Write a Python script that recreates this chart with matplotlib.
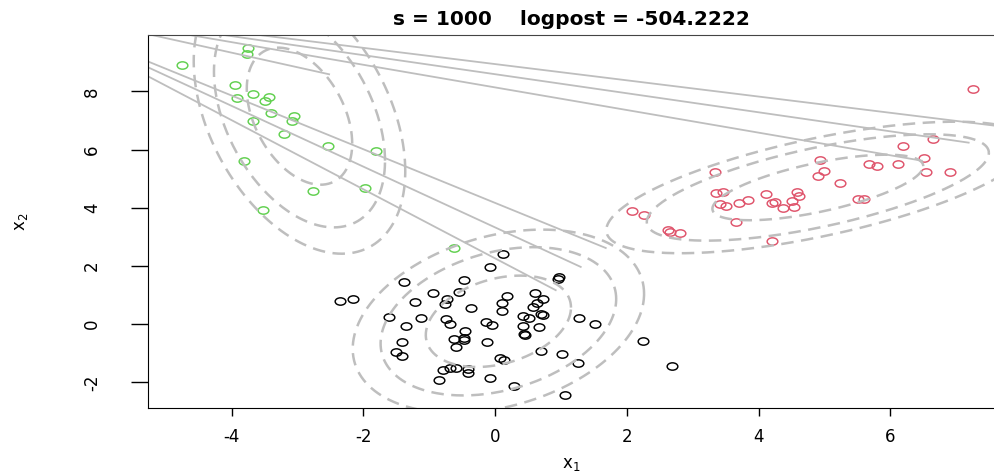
import numpy as np
import matplotlib.pyplot as plt
from matplotlib.markers import MarkerStyle
from matplotlib.transforms import Affine2D

plt.rcParams['font.family'] = ['DejaVu Sans']
plt.rcParams['axes.unicode_minus'] = False

# points
black_x = [-2.36, -2.16, -1.39, -0.47, -0.08, -0.94, -0.55, -0.73, -0.76, -1.21, -0.36, -1.61,
           -1.13, -1.36, -0.74, -0.68, -0.45, -0.47, -0.63, -0.47, -0.59, -0.13, -1.41, -1.50,
           -1.42, -0.79, -0.69, -0.59, -0.41, -0.41, -0.85, -0.08, -0.14, -0.05,
           0.12, 0.97, 0.96, 0.18, 0.60, 0.10, 0.73, 0.64, 0.57, 0.10, 0.69, 0.73, 0.42, 0.51,
           0.42, 0.66, 0.44, 0.45, 1.27, 1.52, 2.24, 2.69, 0.69, 1.01, 0.07, 0.14, 1.26, 0.29, 1.06]
black_y = [0.79, 0.87, 1.45, 1.53, 1.98, 1.07, 1.09, 0.87, 0.68, 0.76, 0.55, 0.26,
           0.23, -0.07, 0.17, 0.00, -0.24, -0.46, -0.51, -0.53, -0.80, -0.60, -0.60, -0.97,
           -1.08, -1.56, -1.52, -1.52, -1.53, -1.67, -1.93, -1.84, 0.06, -0.01,
           2.42, 1.61, 1.56, 0.98, 1.06, 0.73, 0.87, 0.73, 0.59, 0.45, 0.34, 0.32, 0.28, 0.22,
           -0.07, -0.10, -0.33, -0.38, 0.22, 0.00, -0.57, -1.43, -0.92, -1.01, -1.16, -1.24, -1.34, -2.14, -2.44]

red_x = [3.34, 3.35, 3.46, 3.42, 3.51, 3.71, 3.84, 4.11, 4.21, 4.25, 4.37, 4.51, 4.54, 4.59,
         2.08, 2.26, 2.62, 2.66, 2.81, 3.66, 4.20, 7.25, 6.65, 6.19, 6.51, 4.94, 5.68, 5.80,
         6.11, 4.99, 4.91, 6.54, 6.90, 5.23, 4.62, 5.51, 5.60]
red_y = [5.24, 4.51, 4.53, 4.13, 4.07, 4.15, 4.26, 4.48, 4.18, 4.19, 3.98, 4.24, 4.02, 4.55,
         3.89, 3.77, 3.23, 3.18, 3.15, 3.53, 2.85, 8.07, 6.38, 6.11, 5.71, 5.63, 5.50, 5.43,
         5.50, 5.28, 5.11, 5.22, 5.24, 4.86, 4.39, 4.30, 4.29]

green_x = [-4.75, -3.75, -3.77, -3.95, -3.92, -3.67, -3.43, -3.49, -3.41, -3.06, -3.08, -3.67,
           -3.21, -3.81, -3.52, -2.53, -1.81, -2.76, -1.98, -0.62]
green_y = [8.90, 9.49, 9.29, 8.22, 7.79, 7.92, 7.80, 7.66, 7.26, 7.15, 6.97, 7.00,
           6.55, 5.61, 3.94, 6.14, 5.97, 4.57, 4.68, 2.61]

# gaussian components (mean, sd, correlation) for the contours
comp_mx = [0.05, 4.9, -2.97]
comp_my = [0.1, 4.7, 7.15]
comp_sx = [0.73, 1.06, 0.53]
comp_sy = [1.04, 0.746, 1.56]
comp_rho = [0.3, 0.65, -0.4]
levels = [1.51, 2.45, 3.03]

# solid gray segments
seg_x0 = [-3.69, -4.21, -4.71, -5.27, -5.27, -5.27, -5.27]
seg_y0 = [9.97, 9.97, 9.97, 9.97, 9.03, 8.83, 8.52]
seg_x1 = [7.6, 7.19, 6.48, -2.52, 1.68, 1.30, 0.92]
seg_y1 = [6.82, 6.24, 5.62, 8.59, 2.62, 1.97, 1.17]

xticks = [-4, -2, 0, 2, 4, 6]
xtick_labels = ['-4', '-2', '0', '2', '4', '6']
yticks = [-2, 0, 2, 4, 6, 8]
ytick_labels = ['-2', '0', '2', '4', '6', '8']


def ellipse(mx, my, sx, sy, rho, r):
    t = np.linspace(0, 2 * np.pi, 300)
    cov = np.array([[sx * sx, rho * sx * sy], [rho * sx * sy, sy * sy]])
    L = np.linalg.cholesky(cov)
    p = L @ np.vstack([np.cos(t), np.sin(t)]) * r
    return mx + p[0], my + p[1]


fig = plt.figure(figsize=(9.95, 4.75), dpi=100)
ax = fig.add_axes([148 / 995, 1 - 408.3 / 475, 847 / 995, (408.3 - 35) / 475])

mk = MarkerStyle('o', fillstyle='none', transform=Affine2D().scale(1.45, 1.0))
ax.plot(black_x, black_y, ls='none', marker=mk, ms=5.3, mec='black', mew=1.05)
ax.plot(red_x, red_y, ls='none', marker=mk, ms=5.3, mec='#DF536B', mew=1.05)
ax.plot(green_x, green_y, ls='none', marker=mk, ms=5.3, mec='#61D04F', mew=1.05)

for i in range(3):
    for r in levels:
        ex, ey = ellipse(comp_mx[i], comp_my[i], comp_sx[i], comp_sy[i], comp_rho[i], r)
        ax.plot(ex, ey, color='#BEBEBE', lw=1.8, ls=(0, (5, 3)))

for i in range(len(seg_x0)):
    ax.plot([seg_x0[i], seg_x1[i]], [seg_y0[i], seg_y1[i]], color='#BEBEBE', lw=1.3)

ax.set_xlim(-5.27, 7.59)
ax.set_ylim(-2.89, 9.94)
ax.set_xticks(xticks)
ax.set_xticklabels(xtick_labels)
ax.set_yticks(yticks)
ax.set_yticklabels(ytick_labels, rotation=90, va='center')
ax.tick_params(axis='x', length=5.5, width=1, pad=9, labelsize=12)
ax.tick_params(axis='y', length=12, width=1, pad=22, labelsize=12)

ax.spines['right'].set_visible(False)
ax.spines['top'].set_color('#444444')

ax.set_title('s = 1000    logpost = -504.2222', fontsize=14.5, fontweight='bold', pad=7)
ax.set_xlabel(r'$\mathregular{x_1}$', fontsize=12, labelpad=6)
ax.set_ylabel(r'$\mathregular{x_2}$', fontsize=12, labelpad=38)

plt.savefig('out.png', dpi=100)
